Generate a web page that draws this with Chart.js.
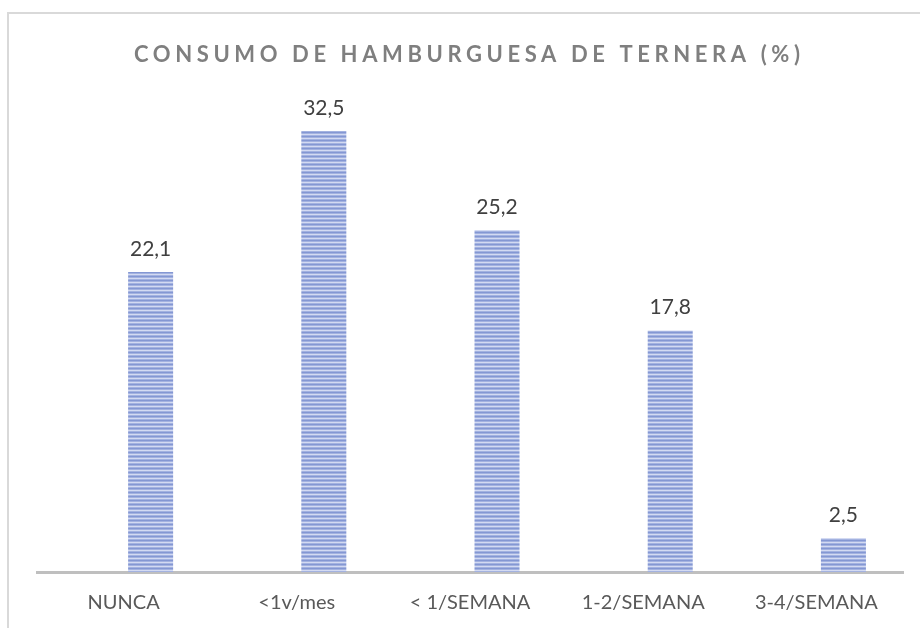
<!DOCTYPE html>
<html>
<head>
<meta charset="utf-8">
<script src="https://cdn.jsdelivr.net/npm/chart.js@4/dist/chart.umd.min.js"></script>
<style>
  html, body { margin: 0; padding: 0; background: #ffffff; }
  #wrap { width: 920px; height: 628px; position: relative; }
</style>
</head>
<body>
<div id="wrap"><canvas id="c" width="920" height="628"></canvas></div>
<script>
const categories = ["NUNCA", "<1v/mes", "< 1/SEMANA", "1-2/SEMANA", "3-4/SEMANA"];
const values = [22.1, 32.5, 25.2, 17.8, 2.5];
const emptySeries = [null, null, null, null, null];
const chartTitle = "CONSUMO DE HAMBURGUESA DE TERNERA (%)";

// striped fill
const pc = document.createElement('canvas');
pc.width = 4; pc.height = 4;
const pctx = pc.getContext('2d');
const rows = ['#8497D3', '#A3B2E0', '#D3DAF2', '#A3B2E0'];
rows.forEach((col, i) => { pctx.fillStyle = col; pctx.fillRect(0, i, 4, 1); });
const stripe = pctx.createPattern(pc, 'repeat');

const FONT = 'Lato, "Open Sans", sans-serif';

const framePlugin = {
  id: 'frame',
  beforeDraw(chart) {
    const ctx = chart.ctx;
    ctx.save();
    ctx.strokeStyle = '#D9D9D9';
    ctx.lineWidth = 2;
    ctx.beginPath();
    ctx.moveTo(8, 628);
    ctx.lineTo(8, 13);
    ctx.lineTo(920, 13);
    ctx.stroke();
    ctx.restore();
  }
};

const titlePlugin = {
  id: 'spacedTitle',
  afterDraw(chart) {
    const ctx = chart.ctx;
    ctx.save();
    ctx.font = 'bold 22px ' + FONT;
    ctx.fillStyle = '#7F7F7F';
    ctx.textBaseline = 'alphabetic';
    ctx.textAlign = 'left';
    const targetW = 666;
    ctx.letterSpacing = '0px';
    const w0 = ctx.measureText(chartTitle).width;
    const sp = (targetW - w0) / (chartTitle.length - 1);
    ctx.letterSpacing = sp + 'px';
    ctx.fillText(chartTitle, 134, 62);
    ctx.restore();
  }
};

const labelPlugin = {
  id: 'valueLabels',
  afterDatasetsDraw(chart) {
    const ctx = chart.ctx;
    const meta = chart.getDatasetMeta(1);
    ctx.save();
    ctx.font = '21px ' + FONT;
    ctx.fillStyle = '#404040';
    ctx.textAlign = 'center';
    ctx.textBaseline = 'alphabetic';
    meta.data.forEach((el, i) => {
      const v = chart.data.datasets[1].data[i];
      ctx.fillText(v.toFixed(1).replace('.', ','), el.x, el.y - 16);
    });
    ctx.restore();
  }
};

new Chart(document.getElementById('c'), {
  type: 'bar',
  data: {
    labels: categories,
    datasets: [
      { label: 'vacía', data: emptySeries, backgroundColor: stripe },
      { label: 'Consumo', data: values, backgroundColor: stripe, borderWidth: 0 }
    ]
  },
  options: {
    responsive: false,
    animation: false,
    devicePixelRatio: 1,
    layout: { padding: { left: 37, right: 17, top: 97, bottom: -5 } },
    categoryPercentage: 0.624,
    barPercentage: 0.833,
    plugins: {
      legend: { display: false },
      title: { display: false },
      tooltip: { enabled: false }
    },
    scales: {
      x: {
        grid: { display: false, drawTicks: false },
        border: { display: true, color: '#BFBFBF', width: 3 },
        ticks: { color: '#595959', font: { family: FONT, size: 20, lineHeight: 0.85 }, padding: 22, maxRotation: 0, autoSkip: false }
      },
      y: {
        display: false,
        min: 0,
        max: 35
      }
    }
  },
  plugins: [framePlugin, titlePlugin, labelPlugin]
});
</script>
</body>
</html>
